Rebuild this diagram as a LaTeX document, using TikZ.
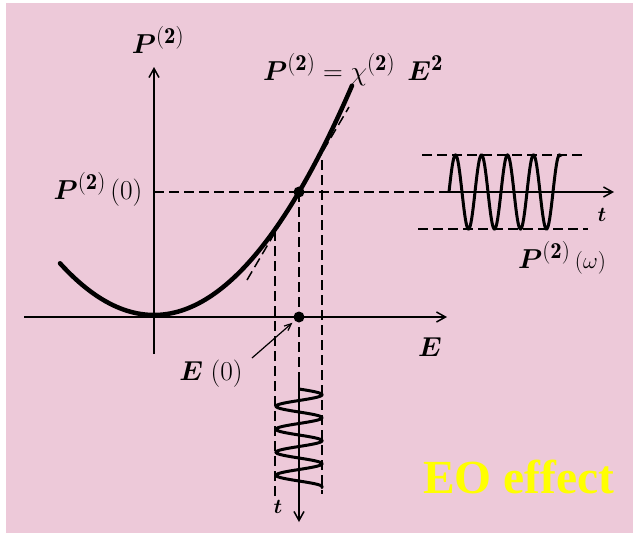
\documentclass[tikz,border=0pt]{standalone}
\usepackage{fontspec}
\usepackage{bm}
\usetikzlibrary{arrows.meta}
\newfontfamily\eofont{Liberation Serif}
\definecolor{bgpink}{RGB}{237,201,217}
\definecolor{eoyellow}{RGB}{255,255,0}
\newcommand{\supb}{^{\mathbf{(2)}}}
\newcommand{\biglab}[1]{\scalebox{1.1}{#1}}
\tikzset{
  thinaxis/.style={line width=1.5pt},
  tip/.style={-{Straight Barb[length=9pt,width=10pt,line width=1.5pt]}},
  guide/.style={line width=1.5pt, dash pattern=on 10pt off 5pt},
  curve/.style={line width=4.5pt, line cap=round},
  wave/.style={line width=3pt},
  dot/.style={circle, fill=black, inner sep=0pt, minimum size=11pt},
  lab/.style={inner sep=0pt, font=\fontsize{24.88}{30}\selectfont},
  small/.style={inner sep=0pt, font=\fontsize{22}{26}\selectfont},
}
\begin{document}
\begin{tikzpicture}[x=1pt,y=-1pt]
\useasboundingbox (0,0) rectangle (633,533);
\fill[white] (0,0) rectangle (633,533);
\fill[bgpink] (6,3) rectangle (633,533);

% coordinates
\coordinate (O) at (154,317);
\coordinate (Eleft) at (24,317);
\coordinate (Eright) at (447,317);
\coordinate (Pbot) at (154,354);
\coordinate (Ptop) at (154,67);
\coordinate (Q) at (299,192);
\coordinate (E0) at (299,317);
\coordinate (Pleft) at (154,192);
\coordinate (Hend) at (440,192);
\coordinate (Tend) at (614,192);
\coordinate (Vstart) at (299,380);
\coordinate (Vend) at (299,522);
\coordinate (ptr) at (252,358);

% axes
\draw[thinaxis,tip] (Eleft) -- (Eright);
\draw[thinaxis,tip] (Pbot) -- (Ptop);

% guide lines
\draw[guide] (Pleft) -- (Hend);
\draw[thinaxis,tip] (Hend) -- (Tend);
\draw[guide] (Q) -- (Vstart);
\draw[thinaxis,tip] (Vstart) -- (Vend);
\draw[guide] (275,231) -- (275,498);
\draw[guide] (322,160) -- (322,494);
\draw[guide] (422,155) -- (583,155);
\draw[guide] (418,229) -- (588,229);

% tangent
\draw[guide] (247,280) -- (349,107);

% curve
\draw[curve] plot[domain=60:352, samples=120] (\x, {315-(0.07649*(\x-154))^2});

% waves
\draw[wave] plot[domain=0:4.3, samples=240] ({449+26*\x}, {192-37*sin(360*\x)});
\draw[wave] plot[domain=0:4.3, samples=240] ({299+23*sin(360*\x)}, {389+23*\x});

% dots
\node[dot] (dQ) at (Q) {};
\node[dot] (dE0) at (E0) {};

% labels
\node[lab] (lP) at (158,40) {\biglab{$\bm{P}\supb$}};
\node[lab, anchor=base west] (leq) at (263,80) {\biglab{$\bm{P}\supb = \chi\supb\;\,\bm{E}^{\mathbf{2}}$}};
\node[lab] (lP0) at (98,189) {\biglab{$\bm{P}\supb\,(0)$}};
\node[lab] (lE) at (430,347) {\biglab{$\bm{E}$}};
\node[lab] (lE0) at (211,374) {\biglab{$\bm{E}\;(0)$}};
\node[small] (lt1) at (602,215) {$\bm{t}$};
\node[lab] (lPw) at (562,258) {\biglab{$\bm{P}\supb\,{\scriptstyle(\omega)}$}};
\node[small] (lt2) at (278,507) {$\bm{t}$};
\node[inner sep=0pt, anchor=base west, text=eoyellow, font=\eofont\bfseries\fontsize{47.5}{50}\selectfont] (eo) at (423,493) {EO effect};

% E(0) pointer
\draw[line width=1.2pt, -{Straight Barb[length=7pt,width=6pt,line width=1.2pt]}, shorten >=3pt] (ptr) -- (dE0);
\end{tikzpicture}
\end{document}
